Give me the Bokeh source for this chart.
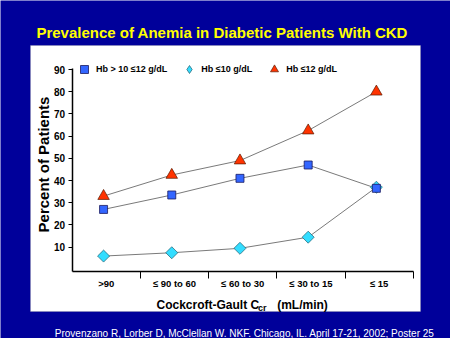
import math
from bokeh.plotting import figure
from bokeh.models import (Range1d, LinearAxis, FixedTicker, BoxAnnotation, Label,
                          Legend, LegendItem, ColumnDataSource)
from bokeh.embed import file_html
from bokeh.resources import INLINE

# ---- data ----
categories = [">90", "\u2264 90 to 60", "\u2264 60 to 30", "\u2264 30 to 15", "\u2264 15"]
hb_10_to_12 = [27, 33.5, 41, 47, 36.5]
hb_le_10 = [6, 7.5, 9.5, 14.5, 37]
hb_le_12 = [33, 42.5, 49, 62.5, 80]
y_ticks = [10, 20, 30, 40, 50, 60, 70, 80, 90]
series_labels = ["Hb > 10 \u226412 g/dL", "Hb \u226410 g/dL", "Hb \u226412 g/dL"]

# ---- layout helpers (pixel -> data) ----
W, H = 450, 338
X0_PX, X_SCALE = 71.7, 68.2
Y0_PX, Y_SCALE = 268.9, 2.221


def px2x(px):
    return (px - X0_PX) / X_SCALE


def px2y(py):
    return (Y0_PX - py) / Y_SCALE


NAVY = "#00009A"
FONT = "Liberation Sans"
SQ_COLOR, DIA_COLOR, TRI_COLOR = "#3366FF", "#33DDFF", "#FF3300"

p = figure(width=W, height=H,
           x_range=Range1d(px2x(0), px2x(W)), y_range=Range1d(px2y(H), px2y(0)),
           output_backend="svg", toolbar_location=None,
           x_axis_location=None, y_axis_location=None, min_border=0, title=None,
           background_fill_color=NAVY, border_fill_color=NAVY, outline_line_color=None)
p.grid.visible = False

# white panel
p.add_layout(BoxAnnotation(left=px2x(30), right=px2x(420), top=px2y(45), bottom=px2y(311),
                           fill_color="white", fill_alpha=1, line_color="#9a9a9a",
                           line_width=1, level="underlay"))

x_axis_pos = -0.8

yaxis = LinearAxis(fixed_location=0, bounds=(x_axis_pos, 90.5),
                   ticker=FixedTicker(ticks=y_ticks),
                   major_tick_out=4, major_tick_in=0, minor_tick_out=0, minor_tick_in=0,
                   axis_line_width=1.5, axis_line_color="black",
                   major_label_standoff=3, major_label_text_font=FONT,
                   major_label_text_font_size="10px", major_label_text_font_style="bold",
                   major_label_text_color="black")
p.add_layout(yaxis, "left")

n = len(categories)
xaxis = LinearAxis(fixed_location=x_axis_pos, bounds=(0, n),
                   ticker=FixedTicker(ticks=list(range(1, n + 1))),
                   major_tick_out=7, major_tick_in=0, minor_tick_out=0, minor_tick_in=0,
                   axis_line_width=1.5, axis_line_color="black",
                   major_label_text_alpha=0)
p.add_layout(xaxis, "below")

centers = [i + 0.5 for i in range(n)]
xlabels = LinearAxis(fixed_location=x_axis_pos,
                     ticker=FixedTicker(ticks=centers),
                     major_tick_out=0, major_tick_in=0, minor_tick_out=0, minor_tick_in=0,
                     axis_line_color=None,
                     major_label_overrides={c: lab for c, lab in zip(centers, categories)},
                     major_label_standoff=7, major_label_text_font=FONT,
                     major_label_text_font_size="9.5px", major_label_text_font_style="bold",
                     major_label_text_color="black")
p.add_layout(xlabels, "below")

xs = [i + 0.46 for i in range(n)]
src = ColumnDataSource(dict(x=xs, a=hb_10_to_12, b=hb_le_10, c=hb_le_12))

for col in ["b", "a", "c"]:
    p.line("x", col, source=src, line_color="#7a7a7a", line_width=1)

# diamond key used by the legend (legend keys ignore marker angle); on the chart it
# sits fully under the wider rotated-square diamonds drawn next
dia_key = p.scatter("x", "b", source=src, marker="diamond", size=8,
                    fill_color=DIA_COLOR, line_color="#1f5f70", line_width=0.7)
r_dia = p.scatter("x", "b", source=src, marker="square", angle=math.pi / 4, size=8.5,
                  fill_color=DIA_COLOR, line_color="#1f5f70", line_width=0.7)
r_sq = p.scatter("x", "a", source=src, marker="square", size=8,
                 fill_color=SQ_COLOR, line_color="#1a1a60", line_width=0.8)
r_tri = p.scatter("x", "c", source=src, marker="triangle", size=11.5,
                  fill_color=TRI_COLOR, line_color="#5a1a00", line_width=0.7)

legend = Legend(items=[LegendItem(label=series_labels[0], renderers=[r_sq]),
                       LegendItem(label=series_labels[1], renderers=[dia_key]),
                       LegendItem(label=series_labels[2], renderers=[r_tri])],
                orientation="horizontal", location=(74, 259),
                glyph_width=20, glyph_height=20, label_standoff=2, spacing=12,
                padding=0, margin=0, background_fill_alpha=0, border_line_alpha=0,
                label_text_font=FONT, label_text_font_size="9px",
                label_text_font_style="bold", label_text_color="black",
                label_text_baseline="middle")
p.add_layout(legend)

# texts
p.add_layout(Label(x=px2x(221.7), y=px2y(32.3), text="Prevalence of Anemia in Diabetic Patients With CKD",
                   text_align="center", text_baseline="alphabetic", text_font=FONT,
                   text_font_size="15px", text_font_style="bold", text_color="#FFFF00"))
p.add_layout(Label(x=px2x(245.5), y=px2y(332.5),
                   text="Provenzano R, Lorber D, McClellan W.  NKF. Chicago, IL. April 17-21, 2002; Poster 25",
                   text_align="center", text_baseline="alphabetic", text_font=FONT,
                   text_font_size="10px", text_color="white"))
p.add_layout(Label(x=px2x(43.3), y=px2y(164), text="Percent of Patients", angle=math.pi / 2,
                   text_align="center", text_baseline="middle", text_font=FONT,
                   text_font_size="15px", text_font_style="bold", text_color="black"))
p.add_layout(Label(x=px2x(156), y=px2y(304), text="Cockcroft-Gault C",
                   text_align="left", text_baseline="alphabetic", text_font=FONT,
                   text_font_size="12px", text_font_style="bold", text_color="black"))
p.add_layout(Label(x=px2x(257.5), y=px2y(307.5), text="cr",
                   text_align="left", text_baseline="alphabetic", text_font=FONT,
                   text_font_size="9px", text_font_style="bold", text_color="black"))
p.add_layout(Label(x=px2x(276.7), y=px2y(304), text="(mL/min)",
                   text_align="left", text_baseline="alphabetic", text_font=FONT,
                   text_font_size="12px", text_font_style="bold", text_color="black"))

open("out.html", "w").write(file_html(p, INLINE))
